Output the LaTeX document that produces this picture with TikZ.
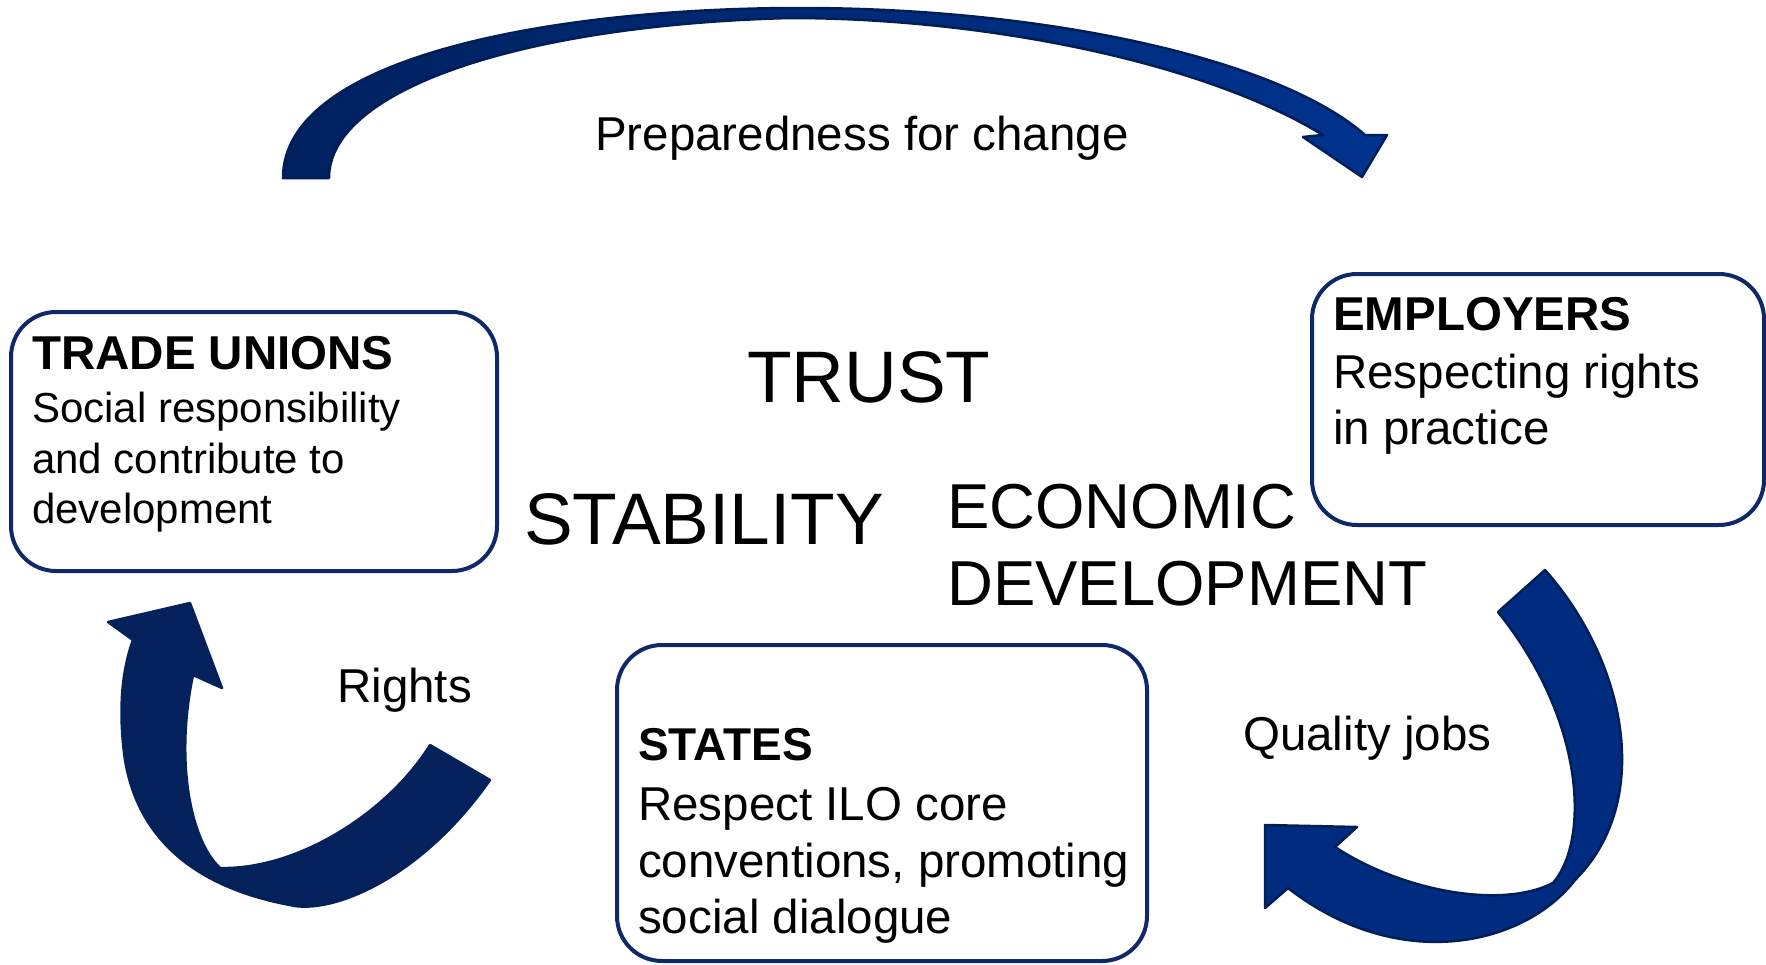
\documentclass[tikz,border=0pt]{standalone}
\usepackage{fontspec}
\setmainfont{Liberation Sans}
\definecolor{boxline}{RGB}{14,40,105}
\definecolor{arrowA}{HTML}{00215F}
\definecolor{arrowB}{HTML}{00338F}
\definecolor{arrowC}{HTML}{002C80}
\definecolor{arrowedge}{HTML}{001E58}
\definecolor{arrowL}{HTML}{05215C}
\begin{document}
\begin{tikzpicture}[x=1pt,y=-1pt,
  box/.style={draw=boxline, line width=4pt, rounded corners=45pt, fill=white, inner sep=0pt},
  txt/.style={anchor=base west, inner sep=0pt, font=\fontsize{47.5}{57}\selectfont},
  hd/.style={anchor=base west, inner sep=0pt, font=\fontsize{47.5}{57}\selectfont\bfseries},
  smalltxt/.style={anchor=base west, inner sep=0pt, font=\fontsize{42}{50}\selectfont},
  bigtxt/.style={anchor=base west, inner sep=0pt, font=\fontsize{73}{88}\selectfont},
  midtxt/.style={anchor=base west, inner sep=0pt, font=\fontsize{63.5}{77}\selectfont},
  blockarrow/.style={line width=2.5pt, line join=round}
]
\useasboundingbox (0,0) rectangle (1766,964);

% top curved arrow
\shadedraw[blockarrow, left color=arrowA, right color=arrowB, draw=arrowedge]
  (283,178) .. controls (283,55) and (560,8) .. (800,8)
  .. controls (1050,8) and (1280,60) .. (1365,135)
  -- (1387,135) -- (1362,177) -- (1303,137) -- (1323,135)
  .. controls (1200,60) and (980,18) .. (790,18)
  .. controls (520,25) and (329,90) .. (329,178)
  -- cycle;

% right curved arrow
\filldraw[blockarrow, fill=arrowC, draw=arrowedge]
  (1498,612) -- (1545,570)
  .. controls (1625,660) and (1655,800) .. (1575,880)
  .. controls (1525,945) and (1400,975) .. (1288,888)
  -- (1265,908) -- (1265,825) -- (1357,827) -- (1335,847)
  .. controls (1400,890) and (1500,910) .. (1553,883)
  .. controls (1590,840) and (1585,720) .. (1498,612)
  -- cycle;

% left curved arrow
\filldraw[blockarrow, fill=arrowL, draw=arrowL]
  (133,640) -- (108,622) -- (190,603) -- (222,688) -- (193,675)
  .. controls (175,760) and (190,840) .. (220,868)
  .. controls (300,870) and (390,810) .. (430,745)
  -- (490,780)
  .. controls (420,880) and (330,915) .. (290,905)
  .. controls (210,890) and (140,850) .. (125,760)
  .. controls (118,710) and (122,670) .. (133,640)
  -- cycle;

% boxes
\node[box, minimum width=486pt, minimum height=259pt] (tu) at (254,441.5) {};
\node[box, minimum width=452pt, minimum height=251pt] (emp) at (1538,399.5) {};
\node[box, minimum width=530pt, minimum height=316pt] (st) at (882,803) {};

% trade unions text
\node[hd] (tu0) at (32,369) {TRADE UNIONS};
\node[smalltxt] (tu1) at (32,422) {Social responsibility};
\node[smalltxt] (tu2) at (32,473) {and contribute to};
\node[smalltxt] (tu3) at (32,523) {development};

% employers text
\node[hd] (emp0) at (1333,330) {EMPLOYERS};
\node[txt] (emp1) at (1333,388) {Respecting rights};
\node[txt] (emp2) at (1333,444) {in practice};

% states text
\node[hd, font=\fontsize{46}{57}\selectfont\bfseries] (st0) at (638,760) {STATES};
\node[txt] (st1) at (638,820) {Respect ILO core};
\node[txt] (st2) at (638,877) {conventions, promoting};
\node[txt] (st3) at (638,933) {social dialogue};

% central words
\node[bigtxt] (trust) at (747,402) {TRUST};
\node[bigtxt] (stab) at (524,544) {STABILITY};
\node[midtxt] (eco1) at (947,528) {ECONOMIC};
\node[midtxt] (eco2) at (947,605) {DEVELOPMENT};

% arrow labels
\node[txt] (prep) at (595,150) {Preparedness for change};
\node[txt] (rights) at (337,702) {Rights};
\node[txt] (qual) at (1243,750) {Quality jobs};
\end{tikzpicture}
\end{document}
